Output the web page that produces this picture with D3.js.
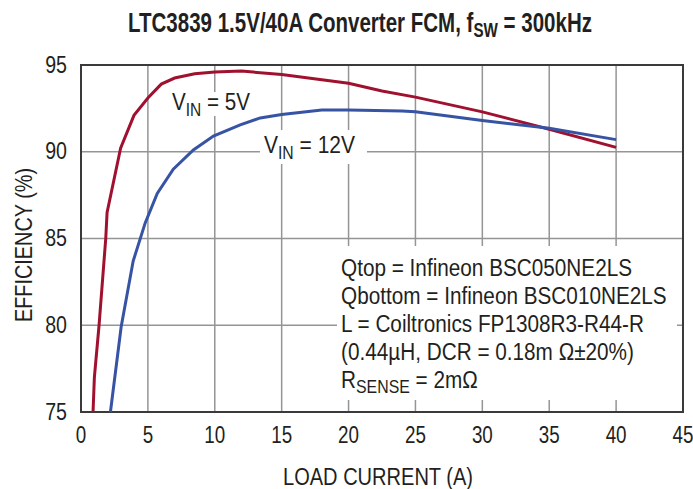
<!DOCTYPE html>
<html>
<head>
  <script src="https://d3js.org/d3.v7.min.js"></script>
  <style>
    body { margin: 0; background: #fff; }
    svg text { font-family: "Liberation Sans", Arial, sans-serif; fill: #231f20; }
  </style>
</head>
<body>
<svg id="chart" width="693" height="489"></svg>
<script>
  // load current (A) vs efficiency (%)
  const vin5 = [
    [0.9, 75], [1.0, 77.0], [1.35, 80], [1.85, 85], [1.95, 86.5], [2.96, 90.2],
    [3.96, 92.1], [5, 93.1], [6, 93.9], [7, 94.25], [8.5, 94.5], [10, 94.6],
    [12, 94.65], [15, 94.45], [20, 93.95], [22.5, 93.5], [25, 93.15],
    [30, 92.3], [35, 91.3], [40, 90.25]
  ];
  const vin12 = [
    [2.2, 75], [3.0, 79.9], [3.9, 83.7], [4.8, 85.9], [5.7, 87.6], [6.9, 89.0],
    [8.4, 90.1], [9.9, 90.9], [11.9, 91.55], [13.4, 91.95], [15, 92.15],
    [18, 92.4], [20, 92.4], [24, 92.35], [25, 92.3], [30, 91.8],
    [35, 91.35], [40, 90.7]
  ];
  const xTicks = [0, 5, 10, 15, 20, 25, 30, 35, 40, 45];
  const yTicks = [75, 80, 85, 90, 95];
  const notes = [
    "Qtop = Infineon BSC050NE2LS",
    "Qbottom = Infineon BSC010NE2LS",
    "L = Coiltronics FP1308R3-R44-R",
    "(0.44\u00b5H, DCR = 0.18m \u03a9\u00b120%)"
  ];

  const svg = d3.select("#chart");
  const x = d3.scaleLinear().domain([0, 45]).range([81, 683]);
  const y = d3.scaleLinear().domain([75, 95]).range([412, 65]);

  // condensed look: squeeze Liberation Sans horizontally
  const SX = 0.8;
  function label(px, py, size, anchor, sx, rot) {
    const g = svg.append("g")
      .attr("transform", `translate(${px},${py})` + (rot ? ` rotate(${rot})` : "") + ` scale(${sx},1)`);
    return g.append("text").attr("font-size", size).attr("text-anchor", anchor || "start");
  }
  // scale a label's group so its text spans the given width
  function fit(t, width) {
    const w = t.node().getComputedTextLength();
    const g = d3.select(t.node().parentNode);
    const tr = g.attr("transform").replace(/scale\([^)]*\)/, `scale(${width / w},1)`);
    g.attr("transform", tr);
    return width / w;
  }

  // grid
  const grid = svg.append("g").attr("stroke", "#959595").attr("stroke-width", 1.5);
  grid.selectAll(".gx").data(xTicks.slice(1, -1)).join("line")
    .attr("x1", d => x(d)).attr("x2", d => x(d))
    .attr("y1", y(95)).attr("y2", y(75));
  grid.selectAll(".gy").data(yTicks.slice(1, -1)).join("line")
    .attr("x1", x(0)).attr("x2", x(45))
    .attr("y1", d => y(d)).attr("y2", d => y(d));

  // white boxes behind labels
  svg.append("rect").attr("x", 337).attr("y", 246).attr("width", 340).attr("height", 154).attr("fill", "#fff");
  svg.append("rect").attr("x", 260).attr("y", 130).attr("width", 107).attr("height", 34).attr("fill", "#fff");
  svg.append("rect").attr("x", 166).attr("y", 92).attr("width", 90).attr("height", 24).attr("fill", "#fff");

  // frame
  svg.append("rect").attr("x", x(0)).attr("y", y(95))
    .attr("width", x(45) - x(0)).attr("height", y(75) - y(95))
    .attr("fill", "none").attr("stroke", "#3a3a3a").attr("stroke-width", 2);

  const line = d3.line().x(d => x(d[0])).y(d => y(d[1]));
  svg.append("path").datum(vin5).attr("d", line)
    .attr("fill", "none").attr("stroke", "#a0112f").attr("stroke-width", 3);
  svg.append("path").datum(vin12).attr("d", line)
    .attr("fill", "none").attr("stroke", "#3753a4").attr("stroke-width", 3);

  // tick labels
  xTicks.forEach(d => label(x(d), 443, 23.5, "middle", SX).text(d));
  yTicks.forEach(d => label(67, y(d) + 7.5, 24.5, "end", SX).text(d));

  // axis titles
  fit(label(378, 485, 23.5, "middle", SX).text("LOAD CURRENT (A)"), 190);
  fit(label(32, 245, 23.5, "middle", SX, -90).text("EFFICIENCY (%)"), 154);

  // title
  const title = label(128, 32, 27, "start", SX).attr("font-weight", "bold");
  title.append("tspan").text("LTC3839 1.5V/40A Converter FCM, f");
  title.append("tspan").attr("font-size", 20).attr("dy", 5).text("SW");
  title.append("tspan").attr("dy", -5).text(" = 300kHz");
  fit(title, 464);

  // curve labels
  function vinLabel(px, py, val, width) {
    const t = label(px, py, 24, "start", SX);
    t.append("tspan").text("V");
    t.append("tspan").attr("font-size", 18).attr("dy", 6).text("IN");
    t.append("tspan").attr("dy", -6).text(" = " + val);
    fit(t, width);
  }
  vinLabel(172, 110, "5V", 78);
  vinLabel(264, 153, "12V", 91);

  // component notes
  let nsx = SX;
  notes.forEach((d, i) => {
    const t = label(341, 276 + i * 28, 23.5, "start", SX).text(d);
    if (i === 0) nsx = fit(t, 291);
    else d3.select(t.node().parentNode).attr("transform", `translate(341,${276 + i * 28}) scale(${nsx},1)`);
  });
  const rs = label(341, 388, 23.5, "start", nsx);
  rs.append("tspan").text("R");
  rs.append("tspan").attr("font-size", 18).attr("dy", 5).text("SENSE");
  rs.append("tspan").attr("dy", -5).text(" = 2m\u03a9");
</script>
</body>
</html>
